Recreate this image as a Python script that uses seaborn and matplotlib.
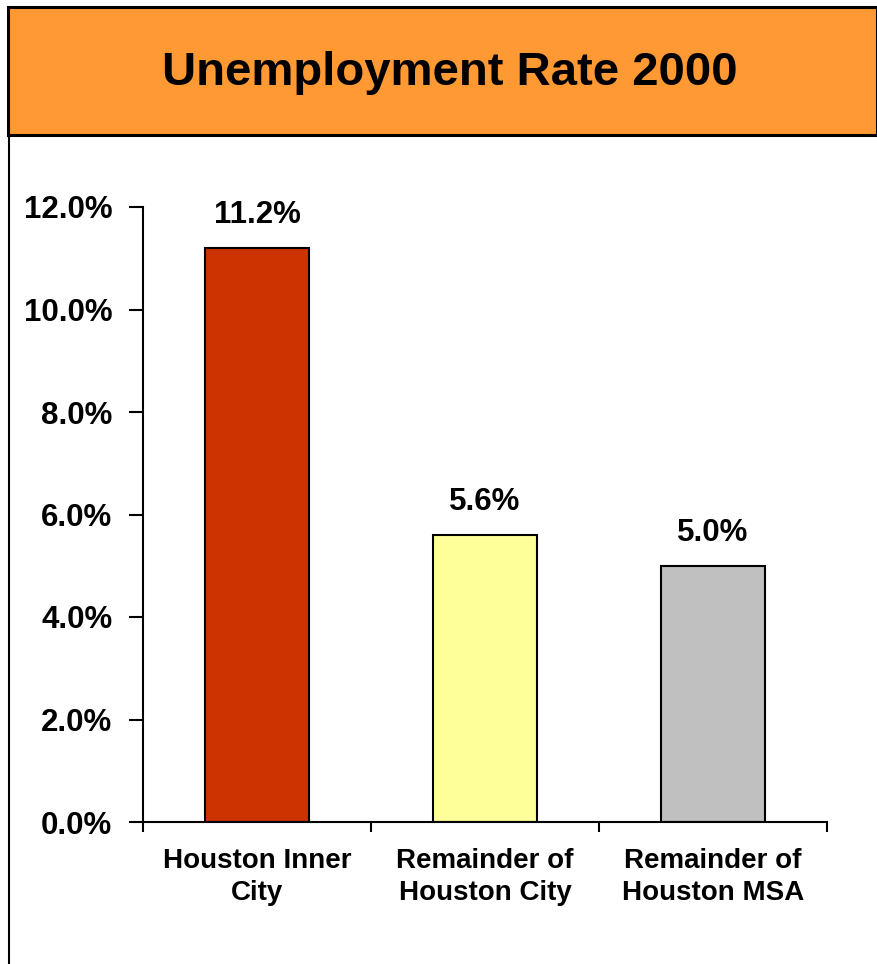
import numpy as np
import pandas as pd
import seaborn as sns
import matplotlib.pyplot as plt
from matplotlib.patches import Rectangle
from matplotlib.lines import Line2D

categories = ["Houston Inner\nCity", "Remainder of\nHouston City", "Remainder of\nHouston MSA"]
rates = [11.2, 5.6, 5.0]
bar_colors = ["#CC3300", "#FFFF99", "#C0C0C0"]
yticks = [0, 2, 4, 6, 8, 10, 12]

W, H = 878, 964
sns.set_style("white")
plt.rcParams['font.family'] = ['Liberation Sans', 'DejaVu Sans']
plt.rcParams['font.weight'] = 'bold'
plt.rcParams['text.color'] = 'black'
plt.rcParams['xtick.color'] = 'black'
plt.rcParams['ytick.color'] = 'black'

fig = plt.figure(figsize=(W / 100, H / 100), dpi=100)

# orange title band
fig.patches.append(Rectangle((8 / W, 1 - 135 / H), 869 / W, 128 / H, transform=fig.transFigure,
                             facecolor="#FF9933", edgecolor="black", linewidth=2.2))
fig.lines.append(Line2D([9 / W, 9 / W], [0, 1 - 135 / H], transform=fig.transFigure,
                        color="black", linewidth=1.5))
fig.text(450 / W, 1 - 73 / H, "Unemployment Rate 2000", ha="center", va="center",
         fontsize=34, fontweight="bold", color="black")

ax = fig.add_axes([143 / W, 1 - 822 / H, (827 - 143) / W, (822 - 207) / H])
df = pd.DataFrame({"cat": categories, "rate": rates})
sns.barplot(data=df, x="cat", y="rate", hue="cat", palette=bar_colors, legend=False,
            saturation=1, width=0.456, edgecolor="black", linewidth=1.5, ax=ax)

ax.set_xlim(-0.5, 2.5)
ax.set_ylim(0, 12)
ax.set_yticks(yticks)
ax.set_yticklabels([f"{v:.1f}%" for v in yticks], fontsize=22.5, fontweight="bold")
ax.tick_params(axis="y", direction="out", length=10, width=1.5, pad=12, left=True)
ax.set_xticks(range(len(categories)))
ax.set_xticklabels(categories, fontsize=20, fontweight="bold", linespacing=1.3)
ax.tick_params(axis="x", length=0, pad=19)
ax.set_xticks([-0.5, 0.5, 1.5, 2.5], minor=True)
ax.tick_params(axis="x", which="minor", direction="out", length=7, width=1.5, bottom=True)
ax.set_xlabel("")
ax.set_ylabel("")
sns.despine(ax=ax)
for s in ["left", "bottom"]:
    ax.spines[s].set_linewidth(1.5)
    ax.spines[s].set_color("black")

for i, v in enumerate(rates):
    ax.annotate(f"{v:.1f}%", (i, v), xytext=(0, 13), textcoords="offset points",
                ha="center", va="bottom", fontsize=22.5, fontweight="bold", color="black")

fig.savefig("out.png", dpi=100)
